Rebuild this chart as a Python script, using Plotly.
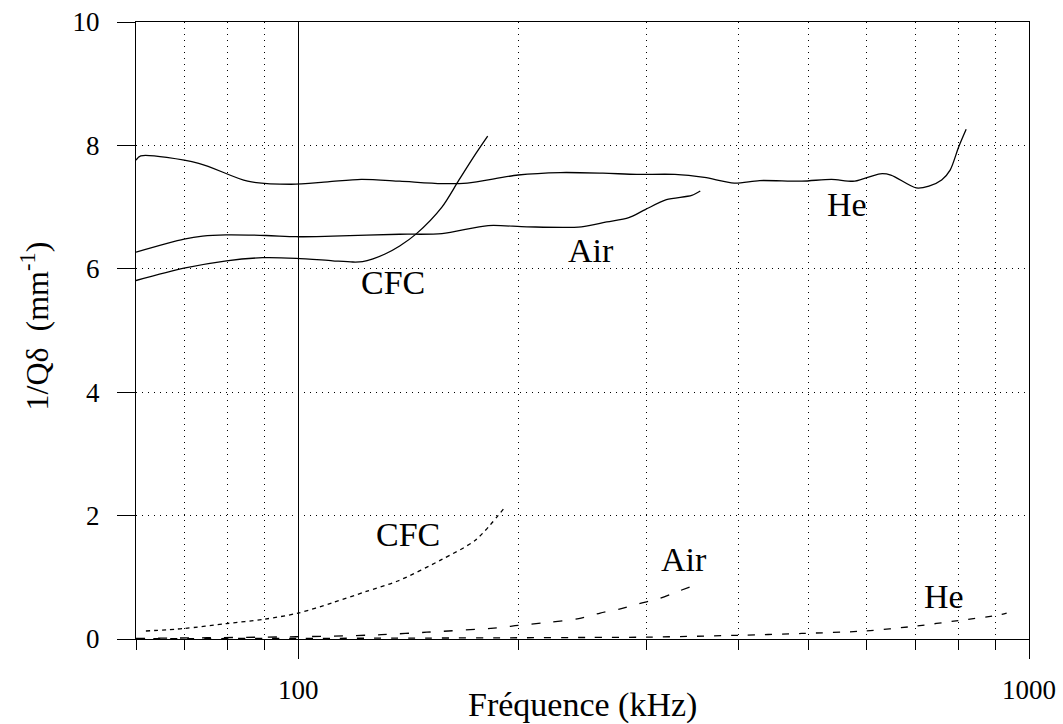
import plotly.graph_objects as go
import numpy as np

# ---------------- data ----------------
# measured curves (solid)
he_f = [60, 60.9, 73.1, 85.3, 97.8, 109.8, 122.0, 137.7, 157.3, 170.4, 200, 228.6, 261.2, 290.6,
        327.7, 359.7, 395.1, 428.0, 488.9, 536.8, 577.5, 625.8, 647.1, 701.0, 729.5, 759.4, 780.0,
        801.0, 820.4]
he_v = [7.76, 7.83, 7.71, 7.42, 7.37, 7.41, 7.45, 7.42, 7.38, 7.39, 7.52, 7.56, 7.55, 7.53,
        7.53, 7.48, 7.39, 7.43, 7.42, 7.45, 7.42, 7.54, 7.52, 7.31, 7.34, 7.44, 7.60,
        7.97, 8.26]

air_f = [60, 69.8, 74.0, 79.7, 90.4, 99.4, 111.5, 137.7, 157.3, 182.0, 205.6, 244.1, 264.5,
         283.4, 298.5, 319.1, 345.6, 355.0]
air_v = [6.27, 6.48, 6.53, 6.55, 6.54, 6.52, 6.53, 6.56, 6.57, 6.70, 6.68, 6.68, 6.76,
         6.83, 6.96, 7.12, 7.19, 7.26]

cfc_f = [60, 69.8, 79.8, 89.4, 99.4, 111.5, 118.8, 122.5, 126.6, 131.5, 137.7, 145.2, 157.3,
         166.0, 175.1, 181.7]
cfc_v = [5.81, 6.01, 6.13, 6.18, 6.17, 6.13, 6.11, 6.115, 6.16, 6.24, 6.37, 6.57, 7.00,
         7.44, 7.87, 8.15]

# theoretical curves (dashed)
cfc_th_f = [61.9, 69.8, 79.8, 89.8, 100, 111.6, 123.9, 136.9, 157.3, 175.1, 192.2]
cfc_th_v = [0.13, 0.17, 0.25, 0.32, 0.42, 0.59, 0.77, 0.94, 1.29, 1.61, 2.15]

air_th_f = [60, 75, 90, 110, 130, 150, 187, 200, 220, 242, 259, 276, 293, 311, 329, 352]
air_th_v = [0.01, 0.02, 0.03, 0.045, 0.07, 0.11, 0.18, 0.22, 0.27, 0.33, 0.42, 0.49, 0.575,
            0.65, 0.76, 0.89]

he_th_f = [60, 100, 150, 200, 250, 300, 400, 489, 597, 701, 801, 902, 932]
he_th_v = [0.005, 0.01, 0.015, 0.02, 0.025, 0.03, 0.06, 0.09, 0.13, 0.21, 0.30, 0.38, 0.42]

# curve labels
label_text = ["CFC", "Air", "He", "CFC", "Air", "He"]
label_f = [134.7, 251.6, 563.9, 141.3, 337.5, 764.1]
label_v = [5.77, 6.30, 7.05, 1.69, 1.29, 0.69]

x_major = [100, 1000]
x_major_text = ["100", "1000"]
x_minor = [60, 70, 80, 90, 200, 300, 400, 500, 600, 700, 800, 900]
y_ticks = [0, 2, 4, 6, 8, 10]

# ---------------- figure ----------------
FONT = "Liberation Serif"
fig = go.Figure()

def add(f, v, dash):
    fig.add_trace(go.Scatter(x=f, y=v, mode="lines",
                             line=dict(color="black", width=1.3, dash=dash,
                                       shape="spline", smoothing=0.8),
                             showlegend=False, hoverinfo="skip"))

add(he_f, he_v, "solid")
add(air_f, air_v, "solid")
add(cfc_f, cfc_v, "solid")
add(cfc_th_f, cfc_th_v, "4px,4px")
add(air_th_f, air_th_v, "9px,13px")
add(he_th_f, he_th_v, "7px,10px")

for t, f, v in zip(label_text, label_f, label_v):
    fig.add_annotation(x=np.log10(f), y=v, xref="x", yref="y", text=t, showarrow=False,
                       xanchor="center", yanchor="middle",
                       font=dict(family=FONT, size=34, color="black"))

fig.add_annotation(xref="paper", yref="paper", x=0.5, y=0, yshift=-65.5,
                   xanchor="center", yanchor="middle", text="Fréquence (kHz)",
                   showarrow=False, font=dict(family=FONT, size=34, color="black"))
fig.add_annotation(xref="paper", yref="paper", x=0, y=0.5, xshift=-102, yshift=4,
                   xanchor="center", yanchor="middle",
                   text="1/Qδ&nbsp; (mm<sup>-1</sup>)", textangle=-90,
                   showarrow=False, font=dict(family=FONT, size=32, color="black"))

fig.update_layout(
    template="none",
    width=1063, height=724,
    margin=dict(l=136, r=34, t=21.5, b=84.5, autoexpand=False),
    paper_bgcolor="white", plot_bgcolor="white",
    font=dict(family=FONT, color="black", size=27),
    xaxis=dict(type="log", range=[np.log10(60), 3], automargin=False,
               tickmode="array", tickvals=x_major, ticktext=x_major_text,
               ticks="outside", ticklen=19, tickwidth=1.2, tickcolor="black",
               ticklabelstandoff=7, ticklabeloverflow="allow",
               showline=True, linecolor="black", linewidth=1.2, mirror=True,
               showgrid=True, gridcolor="black", gridwidth=1,
               zeroline=False,
               minor=dict(tickmode="array", tickvals=x_minor, ticks="outside", ticklen=10,
                          tickwidth=1, tickcolor="black",
                          showgrid=True, gridcolor="black", gridwidth=1, griddash="1px,5px"),
               tickfont=dict(family=FONT, size=27, color="black")),
    yaxis=dict(range=[0, 10], tickmode="array", tickvals=y_ticks, automargin=False,
               ticks="outside", ticklen=18, tickwidth=1.2, tickcolor="black",
               ticklabelstandoff=12, ticklabeloverflow="allow",
               showline=True, linecolor="black", linewidth=1.2, mirror=True,
               showgrid=True, gridcolor="black", gridwidth=1, griddash="1px,5px",
               zeroline=False,
               tickfont=dict(family=FONT, size=27, color="black")),
)

# remove the default 8px page margin so the figure fills the 1063x724 window exactly
fig.write_html("out.html", config={"displayModeBar": False},
               post_script="document.body.style.margin='0px';")
